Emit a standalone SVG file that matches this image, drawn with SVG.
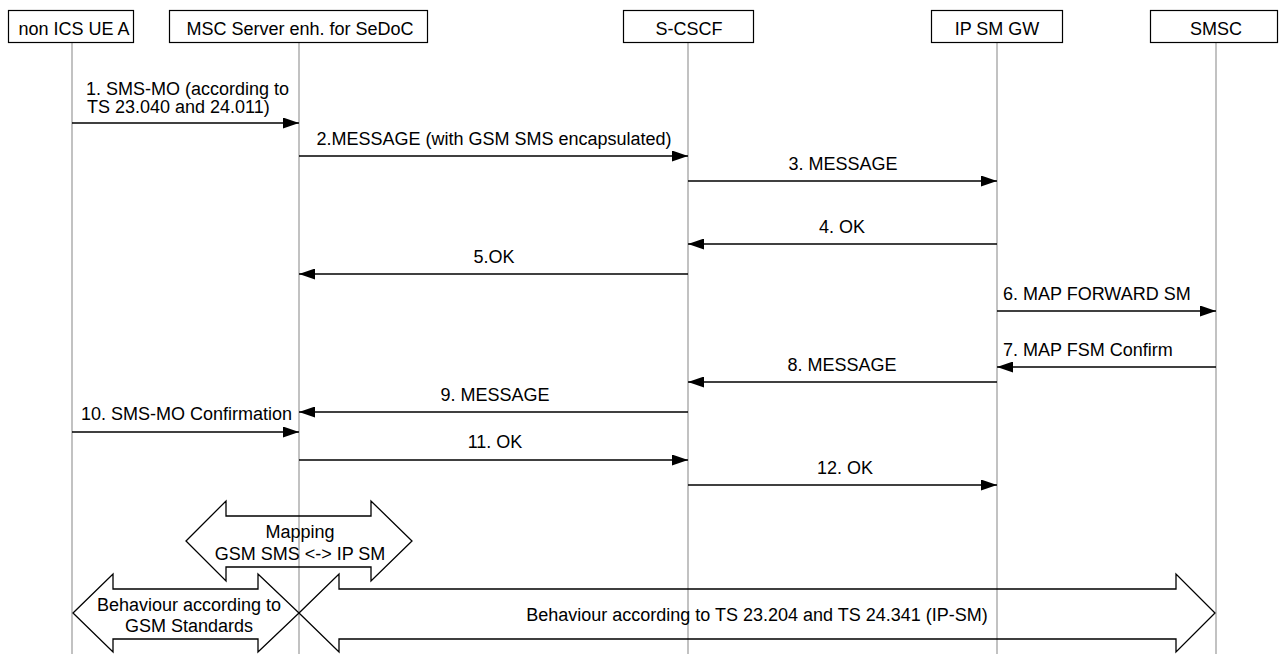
<svg xmlns="http://www.w3.org/2000/svg" width="1279" height="654" viewBox="0 0 1279 654">
<style>
text{font-family:"Liberation Sans",Arial,sans-serif;font-size:18px;fill:#000}
.m{text-anchor:middle}
.box{fill:#fff;stroke:#000;stroke-width:1.2}
.life{stroke:#999;stroke-width:1.2}
.msg{stroke:#000;stroke-width:1.4;fill:none}
.blk{fill:none;stroke:#000;stroke-width:1.3}
</style>
<defs>
<marker id="ah" markerWidth="17" markerHeight="11" refX="16" refY="5.5" orient="auto" markerUnits="userSpaceOnUse">
<path d="M0,0 L16,5.5 L0,11 Z" fill="#000"/>
</marker>
</defs>
<g id="lifelines">
<line class="life" x1="72" y1="42" x2="72" y2="654"/>
<line class="life" x1="299" y1="42" x2="299" y2="654"/>
<line class="life" x1="688" y1="42" x2="688" y2="654"/>
<line class="life" x1="997" y1="42" x2="997" y2="654"/>
<line class="life" x1="1216" y1="42" x2="1216" y2="654"/>
</g>
<g id="ue"><rect class="box" x="8.5" y="10.5" width="125" height="32"/><text class="m" x="74" y="35">non ICS UE A</text></g>
<g id="msc"><rect class="box" x="169.5" y="10.5" width="258" height="32"/><text class="m" x="300" y="35">MSC Server enh. for SeDoC</text></g>
<g id="scscf"><rect class="box" x="623.5" y="10.5" width="130" height="32"/><text class="m" x="689" y="35">S-CSCF</text></g>
<g id="ipsmgw"><rect class="box" x="931.5" y="10.5" width="131" height="32"/><text class="m" x="997" y="35">IP SM GW</text></g>
<g id="smsc"><rect class="box" x="1150.5" y="10.5" width="127" height="32"/><text class="m" x="1216" y="35">SMSC</text></g>
<g id="connectors">
<line class="msg" x1="72" y1="123" x2="299" y2="123" marker-end="url(#ah)"/>
<text x="86" y="95">1. SMS-MO (according to</text>
<text x="87" y="113">TS 23.040 and 24.011)</text>
<line class="msg" x1="299" y1="156" x2="688" y2="156" marker-end="url(#ah)"/>
<text class="m" x="494" y="145">2.MESSAGE (with GSM SMS encapsulated)</text>
<line class="msg" x1="688" y1="181" x2="997" y2="181" marker-end="url(#ah)"/>
<text class="m" x="843" y="170">3. MESSAGE</text>
<line class="msg" x1="997" y1="244" x2="688" y2="244" marker-end="url(#ah)"/>
<text class="m" x="842" y="233">4. OK</text>
<line class="msg" x1="688" y1="274" x2="299" y2="274" marker-end="url(#ah)"/>
<text class="m" x="494" y="263">5.OK</text>
<line class="msg" x1="997" y1="311" x2="1216" y2="311" marker-end="url(#ah)"/>
<text x="1003" y="300">6. MAP FORWARD SM</text>
<line class="msg" x1="1216" y1="367" x2="997" y2="367" marker-end="url(#ah)"/>
<text x="1003" y="356">7. MAP FSM Confirm</text>
<line class="msg" x1="997" y1="382" x2="688" y2="382" marker-end="url(#ah)"/>
<text class="m" x="842" y="371">8. MESSAGE</text>
<line class="msg" x1="688" y1="412" x2="299" y2="412" marker-end="url(#ah)"/>
<text class="m" x="495" y="401">9. MESSAGE</text>
<line class="msg" x1="72" y1="432" x2="299" y2="432" marker-end="url(#ah)"/>
<text x="81" y="420">10. SMS-MO Confirmation</text>
<line class="msg" x1="299" y1="460" x2="688" y2="460" marker-end="url(#ah)"/>
<text class="m" x="495" y="448">11. OK</text>
<line class="msg" x1="688" y1="485" x2="997" y2="485" marker-end="url(#ah)"/>
<text class="m" x="845" y="474">12. OK</text>
</g>
<g id="mapping">
<path class="blk" d="M186,541 L226,501 L226,516 L371,516 L371,501 L412,541 L371,581 L371,567 L226,567 L226,581 Z"/>
<text class="m" x="300" y="538">Mapping</text>
<text class="m" x="300" y="560">GSM SMS &lt;-&gt; IP SM</text>
</g>
<g id="gsm-behaviour">
<path class="blk" d="M73,613 L113,574 L113,589 L258,589 L258,574 L299,613 L258,652 L258,639 L113,639 L113,652 Z"/>
<text class="m" x="189" y="611">Behaviour according to</text>
<text class="m" x="189" y="632">GSM Standards</text>
</g>
<g id="ipsm-behaviour">
<path class="blk" d="M299,613 L339,574 L339,589 L1176,589 L1176,574 L1215,613 L1176,652 L1176,639 L339,639 L339,652 Z"/>
<text class="m" x="757" y="621">Behaviour according to TS 23.204 and TS 24.341 (IP-SM)</text>
</g>
</svg>
